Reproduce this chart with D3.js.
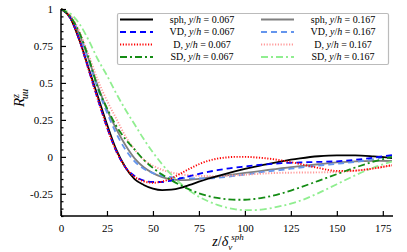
<!DOCTYPE html>
<html>
<head>
<meta charset="utf-8">
<script src="https://cdn.jsdelivr.net/npm/d3@7"></script>
<style>
  body { margin: 0; background: #fff; }
  svg { display: block; font-family: "Liberation Serif", "DejaVu Serif", serif; }
</style>
</head>
<body>
<div id="chart"></div>
<script>
// separation z / delta_nu^sph
var zValues = [0, 5, 10, 15, 20, 25, 30, 35, 40, 45, 50, 55, 60, 65, 70, 75, 80, 85, 90, 95, 100, 105, 110, 115, 120, 125, 130, 140, 150, 160, 170, 180];

// y/h = 0.067
var sph067 = [1, 0.94, 0.79, 0.6, 0.41, 0.22, 0.05, -0.07, -0.15, -0.19, -0.215, -0.225, -0.222, -0.21, -0.19, -0.168, -0.148, -0.13, -0.113, -0.097, -0.082, -0.068, -0.055, -0.042, -0.03, -0.019, -0.01, 0.004, 0.01, 0.01, 0.003, -0.008];
var vd067 = [1, 0.94, 0.79, 0.59, 0.39, 0.2, 0.04, -0.07, -0.13, -0.16, -0.17, -0.17, -0.16, -0.145, -0.13, -0.115, -0.102, -0.09, -0.08, -0.072, -0.065, -0.058, -0.052, -0.047, -0.043, -0.04, -0.038, -0.034, -0.03, -0.02, -0.005, 0.012];
var d067 = [1, 0.94, 0.79, 0.59, 0.39, 0.2, 0.04, -0.07, -0.135, -0.165, -0.175, -0.167, -0.145, -0.113, -0.08, -0.05, -0.027, -0.012, -0.004, 0.0, 0.0, -0.003, -0.008, -0.015, -0.025, -0.036, -0.048, -0.075, -0.095, -0.093, -0.078, -0.056];
var sd067 = [1, 0.95, 0.84, 0.67, 0.47, 0.33, 0.21, 0.12, 0.05, -0.02, -0.075, -0.12, -0.158, -0.192, -0.222, -0.247, -0.265, -0.278, -0.286, -0.29, -0.29, -0.285, -0.276, -0.263, -0.247, -0.228, -0.207, -0.162, -0.117, -0.072, -0.032, 0.0];

// y/h = 0.167
var sph167 = [1, 0.95, 0.83, 0.66, 0.48, 0.32, 0.19, 0.08, -0.01, -0.07, -0.11, -0.137, -0.152, -0.157, -0.155, -0.149, -0.141, -0.133, -0.125, -0.117, -0.109, -0.101, -0.093, -0.085, -0.077, -0.07, -0.063, -0.05, -0.038, -0.03, -0.027, -0.028];
var vd167 = [1, 0.95, 0.83, 0.65, 0.46, 0.3, 0.16, 0.05, -0.03, -0.08, -0.11, -0.128, -0.138, -0.143, -0.145, -0.146, -0.145, -0.142, -0.136, -0.128, -0.12, -0.111, -0.102, -0.095, -0.088, -0.08, -0.073, -0.059, -0.047, -0.034, -0.015, 0.008];
var d167 = [1, 0.96, 0.85, 0.69, 0.52, 0.38, 0.26, 0.14, 0.05, -0.02, -0.06, -0.088, -0.106, -0.118, -0.125, -0.128, -0.13, -0.13, -0.128, -0.125, -0.121, -0.117, -0.113, -0.11, -0.108, -0.107, -0.106, -0.105, -0.102, -0.094, -0.079, -0.058];
var sd167 = [1, 0.97, 0.9, 0.79, 0.66, 0.55, 0.43, 0.32, 0.22, 0.12, 0.03, -0.05, -0.12, -0.18, -0.23, -0.27, -0.3, -0.325, -0.343, -0.355, -0.36, -0.36, -0.355, -0.345, -0.332, -0.316, -0.297, -0.245, -0.185, -0.125, -0.072, -0.032];

var xTicks = [0, 25, 50, 75, 100, 125, 150, 175];
var yTicks = [-0.25, 0, 0.25, 0.5, 0.75, 1];
var yTickLabels = ["-0.25", "0", "0.25", "0.5", "0.75", "1"];

(function () {
  var series = [
    { name: "sph", h: "0.067", values: sph067, color: "#000000", dash: null, width: 1.8 },
    { name: "VD", h: "0.067", values: vd067, color: "#0000ff", dash: "6,4", width: 1.8 },
    { name: "D", h: "0.067", values: d067, color: "#ff0000", dash: "1.2,1.6", width: 1.9 },
    { name: "SD", h: "0.067", values: sd067, color: "#148c14", dash: "7,3,2,3", width: 1.8 },
    { name: "sph", h: "0.167", values: sph167, color: "#808080", dash: null, width: 1.8 },
    { name: "VD", h: "0.167", values: vd167, color: "#6495ed", dash: "6,4", width: 1.8 },
    { name: "D", h: "0.167", values: d167, color: "#ff9a9a", dash: "1.2,1.6", width: 1.9 },
    { name: "SD", h: "0.167", values: sd167, color: "#90ee90", dash: "7,3,2,3", width: 1.8 }
  ];

  var width = 407, height = 252;
  var pLeft = 61, pRight = 392, pTop = 9, pBottom = 216;

  var svg = d3.select("#chart").append("svg")
    .attr("width", width)
    .attr("height", height);

  var x = d3.scaleLinear().domain([0, 180]).range([pLeft, pRight]);
  var y = d3.scaleLinear().domain([-0.4, 1]).range([pBottom, pTop]);

  var plot = svg.append("g");
  plot.append("clipPath").attr("id", "clip")
    .append("rect").attr("x", pLeft).attr("y", pTop - 2).attr("width", pRight - pLeft).attr("height", pBottom - pTop + 2);

  var line = d3.line()
    .x(function (d) { return x(d[0]); })
    .y(function (d) { return y(d[1]); })
    .curve(d3.curveMonotoneX);

  // draw 0.167 set first, then 0.067 on top
  var order = [4, 5, 6, 7, 0, 1, 2, 3];
  order.forEach(function (i) {
    var s = series[i];
    var pts = zValues.map(function (z, k) { return [z, s.values[k]]; });
    plot.append("path")
      .attr("clip-path", "url(#clip)")
      .attr("d", line(pts))
      .attr("fill", "none")
      .attr("stroke", s.color)
      .attr("stroke-width", s.width)
      .attr("stroke-dasharray", s.dash);
  });

  // axes, ticks pointing inward
  var xAxis = d3.axisBottom(x).tickValues(xTicks).tickSize(-5).tickPadding(8).tickFormat(d3.format("d"));
  var gx = svg.append("g").attr("transform", "translate(0," + pBottom + ")").call(xAxis);

  var minor = d3.range(-0.4, 1.0001, 0.05).filter(function (v) {
    return yTicks.every(function (t) { return Math.abs(t - v) > 1e-6; });
  });
  var gmin = svg.append("g").attr("transform", "translate(" + pLeft + ",0)")
    .call(d3.axisLeft(y).tickValues(minor).tickSize(-2.5).tickFormat(""));
  gmin.select(".domain").remove();

  var yAxis = d3.axisLeft(y).tickValues(yTicks).tickSize(-5).tickPadding(8)
    .tickFormat(function (d, i) { return yTickLabels[i]; });
  var gy = svg.append("g").attr("transform", "translate(" + pLeft + ",0)").call(yAxis);

  [gx, gy, gmin].forEach(function (g) {
    g.selectAll(".domain").attr("stroke", "#000").attr("stroke-width", 1.5);
    g.selectAll(".tick line").attr("stroke", "#000").attr("stroke-width", 1.2);
    g.selectAll(".tick text").attr("fill", "#000")
      .style("font-family", "'Liberation Serif', serif").style("font-size", "11px");
  });
  gx.select(".domain").attr("d", "M" + pLeft + ",0H" + (pRight + 1));
  gy.select(".domain").attr("d", "M0," + pBottom + "V" + pTop);

  // axis titles
  var ylab = svg.append("text")
    .attr("transform", "translate(24,98) rotate(-90)")
    .attr("text-anchor", "middle")
    .style("font-size", "15px")
    .style("font-style", "italic");
  ylab.append("tspan").text("R");
  ylab.append("tspan").attr("dy", -5).style("font-size", "10px").text("z");
  ylab.append("tspan").attr("dx", -5).attr("dy", 9).style("font-size", "10px").text("uu");

  var xlab = svg.append("text")
    .attr("x", 228).attr("y", 246)
    .attr("text-anchor", "middle")
    .style("font-size", "14px");
  xlab.append("tspan").style("font-style", "italic").text("z");
  xlab.append("tspan").text("/");
  xlab.append("tspan").style("font-style", "italic").text("δ");
  xlab.append("tspan").attr("dy", 4).style("font-size", "9px").style("font-style", "italic").text("ν");
  xlab.append("tspan").attr("dx", -1).attr("dy", -10).style("font-size", "9px").style("font-style", "italic").text("sph");

  // legend
  var legend = svg.append("g");
  legend.append("rect")
    .attr("x", 117.5).attr("y", 13.5).attr("width", 271).attr("height", 51)
    .attr("rx", 1.5)
    .attr("fill", "#fff")
    .attr("stroke", "#bbbbbb")
    .attr("stroke-width", 1.2);

  var rowY = [19.5, 32, 44.5, 57];
  var colX = [120, 261];
  var textX = [202, 343];
  series.forEach(function (s, i) {
    var col = i < 4 ? 0 : 1, row = i % 4;
    legend.append("line")
      .attr("x1", colX[col]).attr("x2", colX[col] + 33)
      .attr("y1", rowY[row]).attr("y2", rowY[row])
      .attr("stroke", s.color)
      .attr("stroke-width", s.width)
      .attr("stroke-dasharray", s.dash);
    var t = legend.append("text")
      .attr("x", textX[col]).attr("y", rowY[row] + 3)
      .attr("text-anchor", "middle")
      .style("font-size", "10px");
    t.append("tspan").text(s.name + ", ");
    t.append("tspan").style("font-style", "italic").text("y");
    t.append("tspan").text("/");
    t.append("tspan").style("font-style", "italic").text("h");
    t.append("tspan").text(" = " + s.h);
  });
})();
</script>
</body>
</html>
